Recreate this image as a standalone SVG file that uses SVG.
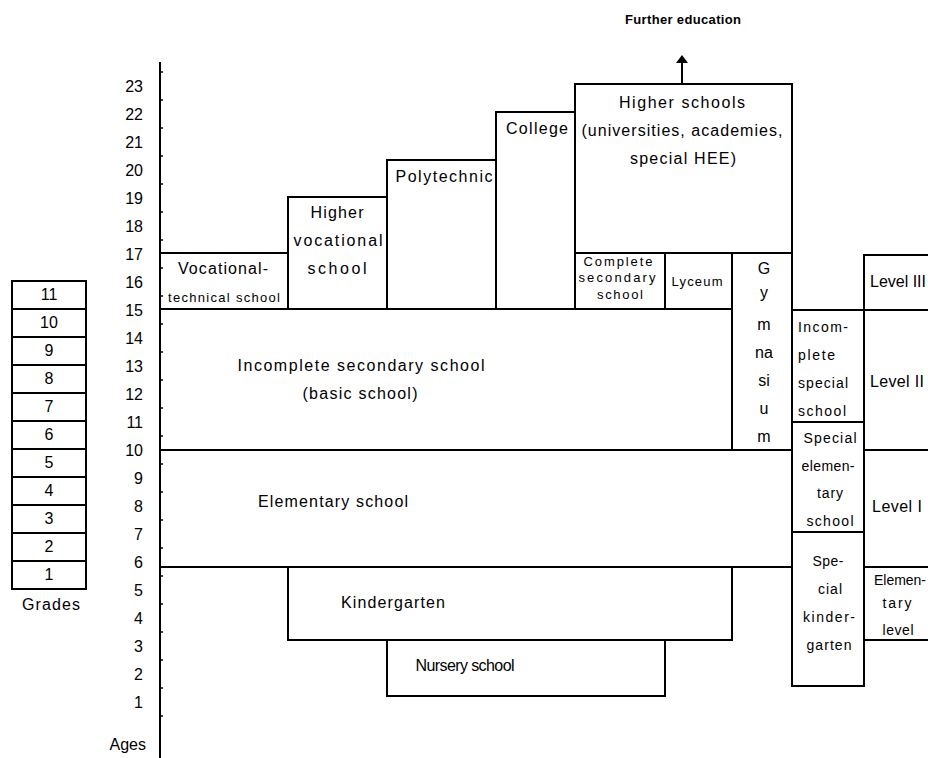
<svg xmlns="http://www.w3.org/2000/svg" width="928" height="758" viewBox="0 0 928 758">
<style>
rect{fill:none;stroke:#000;stroke-width:2}
line{stroke:#000;stroke-width:2}
text{font-family:"Liberation Sans",Arial,sans-serif;font-size:16px;fill:#000}
.m{text-anchor:middle}
.e{text-anchor:end}
.s{font-size:13px}
.r{font-size:14px}
.b{font-weight:bold;font-size:13px}
</style>
<rect x="0" y="0" width="928" height="758" style="fill:#fff;stroke:none"/>
<g id="connectors">
<line x1="160" y1="62" x2="160" y2="758"/>
<path d="M160,72h3M160,100h3M160,128h3M160,156h3M160,184h3M160,212h3M160,240h3M160,268h3M160,296h3M160,324h3M160,352h3M160,380h3M160,408h3M160,436h3M160,464h3M160,492h3M160,520h3M160,548h3M160,576h3M160,604h3M160,632h3M160,660h3M160,688h3M160,716h3" stroke="#000" stroke-width="1.5"/>
<line x1="682" y1="84" x2="682" y2="62"/>
<polygon points="682,55 676,63 688,63" fill="#000"/>
</g>
<g id="further-education"><text class="m b" x="683" y="24" textLength="116">Further education</text></g>
<g id="ages">
<text class="e" x="143" y="92">23</text>
<text class="e" x="143" y="120">22</text>
<text class="e" x="143" y="148">21</text>
<text class="e" x="143" y="176">20</text>
<text class="e" x="143" y="204">19</text>
<text class="e" x="143" y="232">18</text>
<text class="e" x="143" y="260">17</text>
<text class="e" x="143" y="288">16</text>
<text class="e" x="143" y="316">15</text>
<text class="e" x="143" y="344">14</text>
<text class="e" x="143" y="372">13</text>
<text class="e" x="143" y="400">12</text>
<text class="e" x="143" y="428">11</text>
<text class="e" x="143" y="456">10</text>
<text class="e" x="143" y="484">9</text>
<text class="e" x="143" y="512">8</text>
<text class="e" x="143" y="540">7</text>
<text class="e" x="143" y="568">6</text>
<text class="e" x="143" y="596">5</text>
<text class="e" x="143" y="624">4</text>
<text class="e" x="143" y="652">3</text>
<text class="e" x="143" y="680">2</text>
<text class="e" x="143" y="708">1</text>
<text class="e" x="146" y="750">Ages</text>
</g>
<g id="grades">
<rect x="12" y="281" width="74" height="28"/><text class="m" x="49" y="300">11</text>
<rect x="12" y="309" width="74" height="28"/><text class="m" x="49" y="328">10</text>
<rect x="12" y="337" width="74" height="28"/><text class="m" x="49" y="356">9</text>
<rect x="12" y="365" width="74" height="28"/><text class="m" x="49" y="384">8</text>
<rect x="12" y="393" width="74" height="28"/><text class="m" x="49" y="412">7</text>
<rect x="12" y="421" width="74" height="28"/><text class="m" x="49" y="440">6</text>
<rect x="12" y="449" width="74" height="28"/><text class="m" x="49" y="468">5</text>
<rect x="12" y="477" width="74" height="28"/><text class="m" x="49" y="496">4</text>
<rect x="12" y="505" width="74" height="28"/><text class="m" x="49" y="524">3</text>
<rect x="12" y="533" width="74" height="28"/><text class="m" x="49" y="552">2</text>
<rect x="12" y="561" width="74" height="28"/><text class="m" x="49" y="580">1</text>
<text class="m" x="51" y="610" textLength="58">Grades</text>
</g>
<g id="vocational-technical">
<rect x="160" y="253" width="128" height="56"/>
<text class="m" x="223" y="274" textLength="90">Vocational-</text>
<text class="m s" x="224" y="302" textLength="112">technical school</text>
</g>
<g id="higher-vocational">
<rect x="288" y="197" width="99" height="112"/>
<text class="m" x="337" y="218" textLength="53">Higher</text>
<text class="m" x="338" y="246" textLength="89">vocational</text>
<text class="m" x="337" y="274" textLength="59">school</text>
</g>
<g id="polytechnic">
<rect x="387" y="160" width="109" height="149"/>
<text class="m" x="444" y="182" textLength="97">Polytechnic</text>
</g>
<g id="college">
<rect x="496" y="112" width="79" height="197"/>
<text class="m" x="537" y="134" textLength="62">College</text>
</g>
<g id="higher-schools">
<rect x="575" y="84" width="217" height="169"/>
<text class="m" x="682" y="108" textLength="126">Higher schools</text>
<text class="m" x="682" y="136" textLength="201">(universities, academies,</text>
<text class="m" x="683" y="164" textLength="106">special HEE)</text>
</g>
<g id="complete-secondary">
<rect x="575" y="253" width="90" height="56"/>
<text class="m s" x="618" y="266" textLength="69">Complete</text>
<text class="m s" x="617" y="282" textLength="77">secondary</text>
<text class="m s" x="620" y="299" textLength="46">school</text>
</g>
<g id="lyceum">
<rect x="665" y="253" width="67" height="56"/>
<text class="m s" x="697" y="286" textLength="51">Lyceum</text>
</g>
<g id="gymnasium">
<rect x="732" y="253" width="60" height="197"/>
<text class="m" x="764" y="274">G</text>
<text class="m" x="764" y="298">y</text>
<text class="m" x="764" y="330">m</text>
<text class="m" x="764" y="358">na</text>
<text class="m" x="764" y="386">si</text>
<text class="m" x="764" y="414">u</text>
<text class="m" x="764" y="442">m</text>
</g>
<g id="incomplete-secondary">
<rect x="160" y="309" width="572" height="141"/>
<text class="m" x="361" y="371" textLength="247">Incomplete secondary school</text>
<text class="m" x="360" y="399" textLength="115">(basic school)</text>
</g>
<g id="elementary">
<rect x="160" y="450" width="632" height="117"/>
<text class="m" x="333" y="507" textLength="150">Elementary school</text>
</g>
<g id="kindergarten">
<rect x="288" y="567" width="444" height="73"/>
<text class="m" x="393" y="608" textLength="104">Kindergarten</text>
</g>
<g id="nursery">
<rect x="387" y="640" width="278" height="56"/>
<text class="m" x="465" y="671" textLength="99">Nursery school</text>
</g>
<g id="incomplete-special">
<rect x="792" y="310" width="72" height="112"/>
<text class="r" x="798" y="332" textLength="50">Incom-</text>
<text class="r" x="798" y="360" textLength="37">plete</text>
<text class="r" x="798" y="388" textLength="50">special</text>
<text class="r" x="798" y="416" textLength="48">school</text>
</g>
<g id="special-elementary">
<rect x="792" y="422" width="72" height="110"/>
<text class="m r" x="830" y="443" textLength="53">Special</text>
<text class="m r" x="828" y="471" textLength="53">elemen-</text>
<text class="m r" x="830" y="498" textLength="26">tary</text>
<text class="m r" x="830" y="526" textLength="47">school</text>
</g>
<g id="special-kindergarten">
<rect x="792" y="532" width="72" height="154"/>
<text class="m r" x="828" y="566" textLength="31">Spe-</text>
<text class="m r" x="830" y="594" textLength="24">cial</text>
<text class="m r" x="829" y="622" textLength="52">kinder-</text>
<text class="m r" x="829" y="650" textLength="45">garten</text>
</g>
<g id="level-3">
<rect x="864" y="255" width="80" height="55"/>
<text x="870" y="287" textLength="56">Level III</text>
</g>
<g id="level-2">
<rect x="864" y="310" width="80" height="140"/>
<text x="870" y="387" textLength="54">Level II</text>
</g>
<g id="level-1">
<rect x="864" y="450" width="80" height="117"/>
<text x="872" y="512" textLength="50">Level I</text>
</g>
<g id="elementary-level">
<rect x="864" y="567" width="80" height="73"/>
<text class="m r" x="900" y="585" textLength="52">Elemen-</text>
<text class="m r" x="897" y="608" textLength="29">tary</text>
<text class="m r" x="898" y="635" textLength="31">level</text>
</g>
</svg>
